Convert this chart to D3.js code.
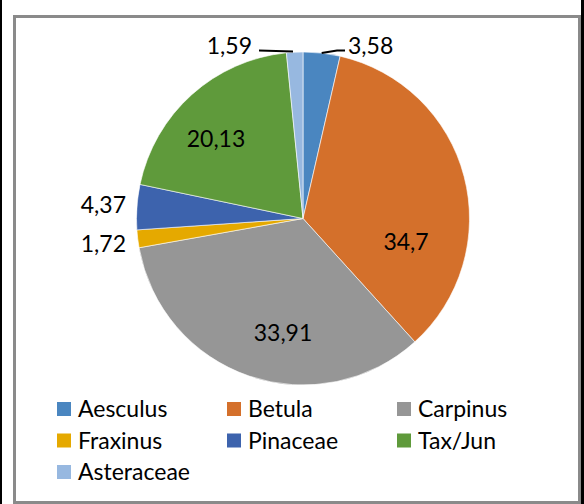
<!DOCTYPE html>
<html><head><meta charset="utf-8">
<script src="https://cdn.jsdelivr.net/npm/d3@7/dist/d3.min.js"></script>
<style>html,body{margin:0;padding:0;background:#fff;}svg{display:block;}</style>
</head><body><svg id="c" width="584" height="504"></svg>
<script>
const categories = ["Aesculus","Betula","Carpinus","Fraxinus","Pinaceae","Tax/Jun","Asteraceae"];
const values = [3.58, 34.7, 33.91, 1.72, 4.37, 20.13, 1.59];
const labels = ["3,58","34,7","33,91","1,72","4,37","20,13","1,59"];
const colors = ["#4a86c0","#d4702b","#969696","#e5a900","#3d63ad","#5f9a3b","#97b8e0"];
// label anchor offsets relative to pie centre (layout only)
const labelPos = [[45,-165,"start"],[103,31,"middle"],[-20,122,"middle"],[-177,33,"end"],[-177,-6,"end"],[-87,-72,"middle"],[-51,-165,"end"]];

const svg = d3.select("#c");
svg.append("rect").attr("x",0).attr("y",0).attr("width",584).attr("height",504).attr("fill","#fff");
svg.append("rect").attr("x",0).attr("y",0).attr("width",2).attr("height",504).attr("fill","#000");
svg.append("rect").attr("x",581).attr("y",0).attr("width",3).attr("height",504).attr("fill","#000");
svg.append("rect").attr("x",14.5).attr("y",16.5).attr("width",565).attr("height",486)
  .attr("fill","none").attr("stroke","#8a8a8a").attr("stroke-width",3);

const cx = 303, cy = 218.5, r = 166.5;
const pie = d3.pie().sort(null).value(d=>d)(values);
const arc = d3.arc().innerRadius(0).outerRadius(r);
const g = svg.append("g").attr("transform",`translate(${cx},${cy})`);
g.selectAll("path").data(pie).join("path")
  .attr("d",arc).attr("fill",(d,i)=>colors[i]).attr("stroke","#fff").attr("stroke-width",0.6);

const font = "Lato, 'Open Sans', sans-serif";
g.selectAll("text.lbl").data(pie).join("text").attr("class","lbl")
  .attr("x",(d,i)=>labelPos[i][0]).attr("y",(d,i)=>labelPos[i][1])
  .attr("text-anchor",(d,i)=>labelPos[i][2])
  .attr("font-family",font).attr("font-size",23).attr("fill","#000")
  .text((d,i)=>labels[i]);

// leader lines for the two small top slices
const outer = d3.arc().innerRadius(r).outerRadius(r);
const pA = outer.centroid(pie[0]);
g.append("polyline").attr("points",`${pA[0]},${pA[1]} ${34},${-168} ${42},${-168}`)
  .attr("fill","none").attr("stroke","#000").attr("stroke-width",2);
g.append("line").attr("x1",-10).attr("y1",-167).attr("x2",-44).attr("y2",-168)
  .attr("stroke","#000").attr("stroke-width",2);

// legend
const leg = svg.append("g");
categories.forEach((c,i)=>{
  const col = i%3, row = Math.floor(i/3);
  const x = 57 + col*170, y = 402 + row*31.5;
  leg.append("rect").attr("x",x).attr("y",y).attr("width",14).attr("height",14).attr("fill",colors[i]);
  leg.append("text").attr("x",x+21).attr("y",y+15).attr("font-family",font).attr("font-size",23)
    .attr("fill","#000").text(c);
});
</script></body></html>
